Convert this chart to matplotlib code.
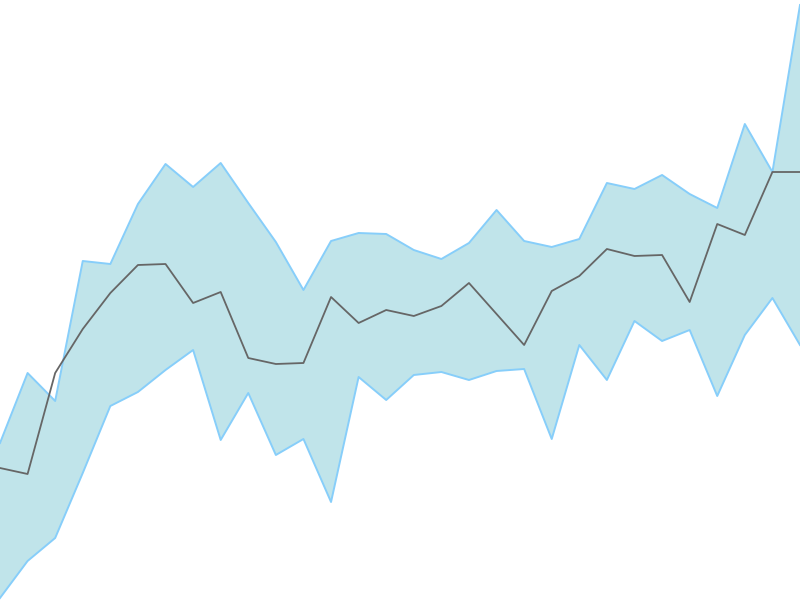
import matplotlib
matplotlib.use("Agg")
import matplotlib.pyplot as plt
import numpy as np

# values (0 = bottom, 600 = top)
upper = [157, 227, 199, 339, 336, 396, 436, 413, 437, 397, 358, 310, 359, 367, 366,
         350, 341, 357, 390, 359, 353, 361, 417, 411, 425, 406, 392, 476, 428, 595]
middle = [132, 126, 227, 271, 307, 335, 336, 297, 308, 242, 236, 237, 303, 277, 290,
          284, 294, 317, 286, 255, 309, 324, 351, 344, 345, 298, 376, 365, 428, 428]
lower = [2, 39, 62, 127, 194, 208, 230, 250, 160, 207, 145, 161, 98, 223, 200,
         225, 228, 220, 229, 231, 161, 255, 220, 279, 259, 270, 204, 265, 302, 255]

x = np.arange(len(middle))

fig = plt.figure(figsize=(8, 6), dpi=100)
ax = fig.add_axes([0, 0, 1, 1])
ax.fill_between(x, lower, upper, facecolor="#c0e4ea", edgecolor="none")
ax.plot(x, upper, color="#87cefa", lw=1.4)
ax.plot(x, lower, color="#87cefa", lw=1.4)
ax.plot(x, middle, color="#666666", lw=1.3)
ax.set_xlim(0, len(x) - 1)
ax.set_ylim(0, 600)
ax.axis("off")
fig.savefig("out.png", dpi=100)
